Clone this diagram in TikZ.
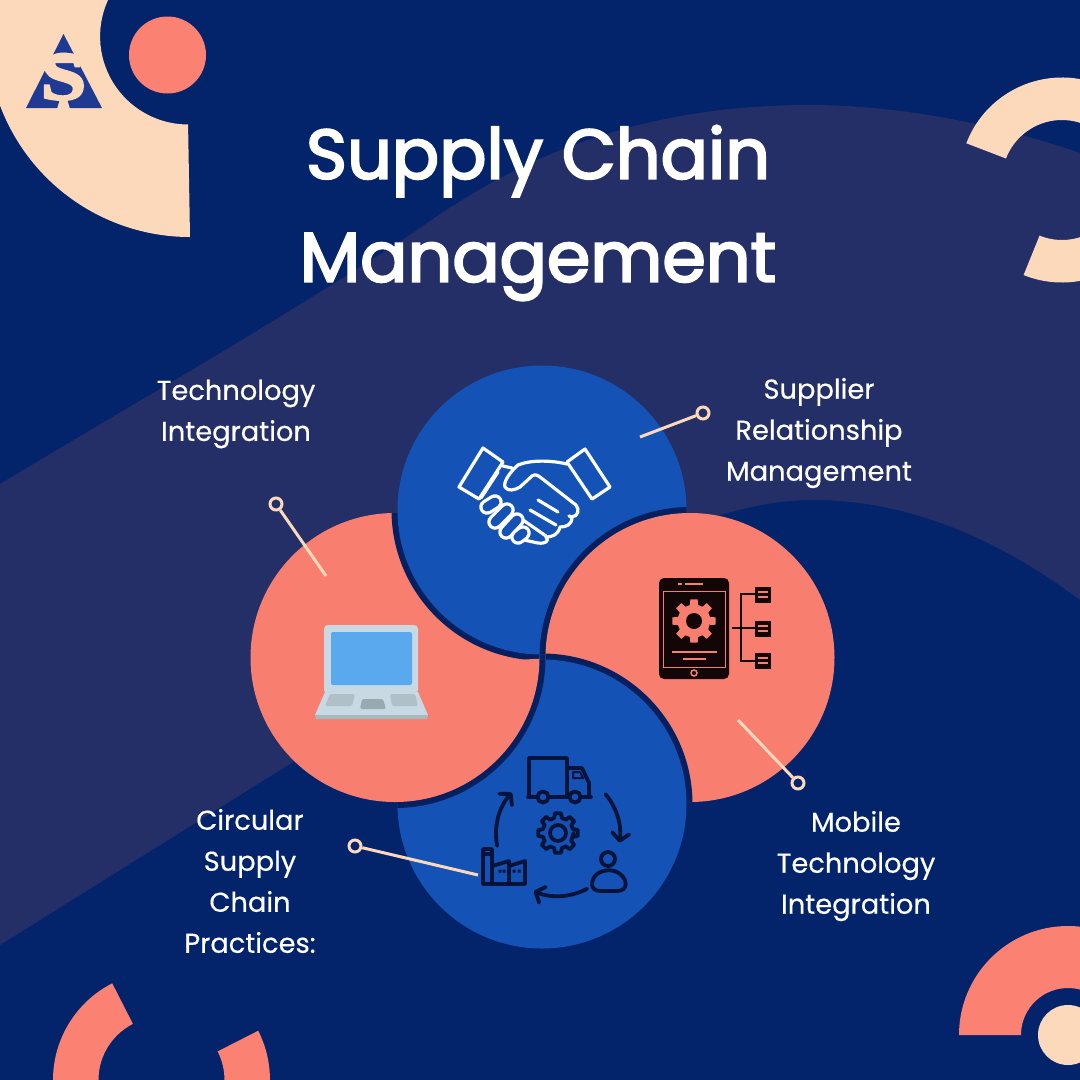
\documentclass[tikz,border=0pt]{standalone}
\usepackage{fontspec}
\usetikzlibrary{arrows.meta}
\setmainfont{Poppins}[FakeBold=0.4]
\newfontfamily\titlefont[FakeBold=3]{Poppins}
\newfontfamily\logofont[FakeBold=3.5,FakeStretch=1.2]{Liberation Serif}
\definecolor{bgnavy}{HTML}{03246B}
\definecolor{bandnavy}{HTML}{232F66}
\definecolor{peach}{HTML}{FDD9BB}
\definecolor{salmon}{HTML}{FB8173}
\definecolor{leaf}{HTML}{F87F70}
\definecolor{roy}{HTML}{1453B5}
\definecolor{seam}{HTML}{06205F}
\definecolor{ink}{HTML}{03133A}
\definecolor{tabink}{HTML}{120606}
\definecolor{lapframe}{HTML}{C8D9E3}
\definecolor{lapscreen}{HTML}{5AA9EE}
\definecolor{lapkey}{HTML}{AFC0C8}
\definecolor{lapedge}{HTML}{A6B8C0}
\definecolor{logoblue}{HTML}{1F3A93}
\tikzset{
  ringdot/.style={circle,draw=peach,line width=3pt,inner sep=0pt,minimum size=12pt},
  lead/.style={draw=peach,line width=3pt},
  lab/.style={text=white,align=center,font=\fontsize{27.3}{41}\selectfont},
  ttl/.style={text=white,align=center,font=\titlefont\fontsize{70}{103}\selectfont},
  hand/.style={draw=white,line width=3.2pt,line cap=round,line join=round},
  supply/.style={draw=ink,line width=3.8pt,line cap=round,line join=round},
  cyc/.style={supply,-{Straight Barb[length=7.5pt,width=17pt,line cap=round,line join=round]}},
}
% teeth, tip radius, root radius, tip half-angle, root half-angle
\newcommand{\gearloop}[5]{%
  (0:#3) \foreach \i [evaluate=\i as \a using \i*360/#1] in {1,...,#1} {
    -- ({\a-#5}:#3) -- ({\a-#4}:#2) -- ({\a+#4}:#2) -- ({\a+#5}:#3)
  } -- cycle}
\begin{document}
\begin{tikzpicture}[x=1pt,y=-1pt]
\useasboundingbox (0,0) rectangle (1080,1080);
\clip (0,0) rectangle (1080,1080);
\fill[bgnavy] (0,0) rectangle (1080,1080);
% lighter sweep
\fill[bandnavy] (0,484) .. controls (140,400) and (280,320) .. (413,233)
  .. controls (500,170) and (620,105) .. (810,105)
  .. controls (900,105) and (1000,125) .. (1080,153)
  -- (1080,600) .. controls (1000,540) and (910,500) .. (813,500)
  .. controls (650,500) and (450,665) .. (293,762)
  -- (0,945) -- cycle;
% top-left arc and disc
\fill[peach] (190,237) arc[start angle=90,end angle=200,radius=203] -- (0,0) -- (108,0)
  arc[start angle=204.5,end angle=90,radius=88] -- cycle;
\fill[salmon] (167.5,55) circle[radius=38.5];
% logo
\fill[logoblue] (63.5,34) -- (102,108) -- (26,108) -- cycle;
\fill[peach] (46,63) .. controls (50,49) and (77,49) .. (81,63) -- cycle;
\node[inner sep=0pt,text=peach,font=\logofont\bfseries\fontsize{68}{68}\selectfont] (logoS) at (63.5,77) {S};
\fill[peach] (57,109) -- (60,99) -- (67,99) -- (70,109) -- cycle;
% top-right ring
\fill[peach] ([shift={(201:102.5)}]1062,180) arc[start angle=201,end angle=340,radius=102.5]
  -- ([shift={(340:60)}]1062,180) arc[start angle=340,end angle=201,radius=60] -- cycle;
\fill[peach] ([shift={(112:102.5)}]1062,180) arc[start angle=112,end angle=40,radius=102.5]
  -- ([shift={(40:60)}]1062,180) arc[start angle=40,end angle=112,radius=60] -- cycle;
% bottom-right ring and disc
\fill[salmon] (959,1035) arc[start angle=180,end angle=300,radius=109]
  -- ([shift={(300:47)}]1068,1035) arc[start angle=300,end angle=180,radius=47] -- cycle;
\fill[peach] (1068,1035) circle[radius=30];
% bottom-left ring
\fill[salmon] ([shift={(243:108.5)}]161.5,1080) arc[start angle=243,end angle=175,radius=108.5]
  -- ([shift={(175:63)}]161.5,1080) arc[start angle=175,end angle=243,radius=63] -- cycle;
\fill[salmon] ([shift={(333:108.5)}]161.5,1080) arc[start angle=333,end angle=365,radius=108.5]
  -- ([shift={(365:63)}]161.5,1080) arc[start angle=365,end angle=333,radius=63] -- cycle;
% interlocked discs
\def\rr{144.5}\def\rb{150.5}\def\rx{145.3}
\coordinate (cL) at (395,657.5);
\coordinate (cT) at (542,510);
\coordinate (cR) at (690,657.5);
\coordinate (cB) at (542,804);
\fill[leaf] (cL) circle[radius=\rr];
\begin{scope}\clip (cL) circle[radius=\rr]; \fill[seam] (cT) circle[radius=\rb]; \end{scope}
\fill[roy] (cT) circle[radius=\rr];
\begin{scope}\clip (cT) circle[radius=\rr]; \fill[seam] (cR) circle[radius=\rb]; \end{scope}
\fill[leaf] (cR) circle[radius=\rr];
\begin{scope}\clip (cR) circle[radius=\rr]; \fill[seam] (cB) circle[radius=\rb]; \end{scope}
\fill[roy] (cB) circle[radius=\rr];
\begin{scope}\clip (cB) circle[radius=\rr]; \fill[seam] (cL) circle[radius=\rb]; \end{scope}
\begin{scope}\clip (cB) circle[radius=\rx]; \fill[leaf] (cL) circle[radius=\rr]; \end{scope}
% handshake
\draw[hand] (483,448) -- (503,462) -- (479,499) -- (459,487) -- cycle;
\draw[hand] (585,449) -- (567,462) -- (592,499) -- (610,487) -- cycle;
\draw[hand] (503,466) -- (512,468);
\draw[hand] (498,472) -- (481,498);
\draw[hand] (567,464) .. controls (550,460) and (530,460) .. (518,465)
  .. controls (510,472) and (503,482) .. (505,487)
  .. controls (508,492) and (515,490) .. (520,487)
  -- (532,476) .. controls (535,474) and (537,475) .. (540,477) -- (576,505)
  .. controls (580,510) and (578,516) .. (572,517) -- (569,516);
\draw[hand] (572,517) .. controls (572,525) and (566,527) .. (560,527)
  .. controls (558,535) and (552,537) .. (546,537);
\draw[hand] (546,537) .. controls (550,541) and (545,544) .. (538,543) -- (524,540);
\draw[hand] (538,500) -- (558,512);
\draw[hand] (530,510) -- (556,525);
\draw[hand] (523,520) -- (546,536);
\foreach \xa/\ya/\xb/\yb [count=\k] in {487/507/495/502,495/522/507/510,506/532/517/520,518/537/523/533}{
  \draw[white,line width=15.5pt,line cap=round] (\xa,\ya) -- (\xb,\yb);
  \draw[roy,line width=9pt,line cap=round] (\xa,\ya) -- (\xb,\yb);
}
% laptop
\fill[lapframe,rounded corners=4pt] (324,625) rectangle (418,694);
\fill[lapscreen,rounded corners=2pt] (331,632) rectangle (412,685);
\fill[lapframe] (325,692) -- (418,692) -- (428,715) -- (315,715) -- cycle;
\fill[lapedge] (315,715) -- (428,715) -- (427,719) -- (316,719) -- cycle;
\fill[lapkey,rounded corners=1.5pt] (330,694) -- (355,694) -- (352,706) -- (325,706) -- cycle;
\fill[lapkey,rounded corners=1.5pt] (390,694) -- (415,694) -- (418,706) -- (392,706) -- cycle;
\fill[lapedge!92!black,rounded corners=1.5pt] (362,699) -- (383,699) -- (386,709) -- (360,709) -- cycle;
% tablet
\fill[tabink,rounded corners=5pt] (659,578) rectangle (729,679);
\draw[leaf,line width=1pt] (663.5,591) rectangle (725.5,667);
\draw[leaf,line width=2pt] (678,584) -- (682,584) (685,584) -- (703,584);
\begin{scope}[shift={(694,621)}]
\fill[leaf] \gearloop{8}{22}{16.5}{9.5}{14.5};
\fill[tabink] (0,0) circle[radius=8];
\end{scope}
\draw[leaf,line width=1.6pt] (672,652) -- (717,652) (683,659) -- (706,659);
\draw[leaf,line width=1.5pt] (694,673) circle[radius=3];
\draw[tabink,line width=2.4pt] (732,628) -- (755,628) (755,594) -- (741,594) -- (741,661) -- (755,661);
\foreach \yy in {595,629,661}{
  \fill[tabink] (755,\yy-8) rectangle (771,\yy+8);
  \draw[leaf,line width=1.3pt] (758,\yy-3) -- (768,\yy-3) (758,\yy+2) -- (768,\yy+2);
}
% supply loop
\draw[supply] (529,795) -- (529,758) -- (567,758) -- (567,795);
\draw[supply] (568,768) -- (582,768) -- (589,783) -- (589,795);
\draw[supply,line width=2pt] (573,772) -- (580,772) -- (583,778) -- (573,778) -- cycle;
\draw[supply] (528,797) -- (591,797);
\draw[supply,fill=roy] (543,797) circle[radius=5.5];
\draw[supply,fill=roy] (575,797) circle[radius=5.5];
\draw[cyc] ([shift={(-40:62)}]558,834) arc[start angle=-40,end angle=8,radius=62];
\draw[cyc] ([shift={(62:62)}]558,834) arc[start angle=62,end angle=113,radius=62];
\draw[cyc] ([shift={(169:62)}]558,834) arc[start angle=169,end angle=222,radius=62];
\begin{scope}[shift={(558,833)}]
\draw[supply] \gearloop{8}{20}{15.5}{9}{14};
\draw[supply] (0,0) circle[radius=8];
\end{scope}
\draw[supply] (608,859) circle[radius=7];
\draw[supply] (600,891) .. controls (590,891) and (590,880) .. (597,874)
  .. controls (604,869) and (614,869) .. (620,874)
  .. controls (628,880) and (628,891) .. (617,891) -- cycle;
\draw[supply] (483,849) -- (492,849) -- (492,884) (483,849) -- (483,884) -- (525,884) -- (525,861)
  -- (509,866) -- (509,861) -- (492,866) (509,866) -- (509,884) (483,854) -- (492,854);
\fill[ink] (498.5,869.5) rectangle (501.5,872.5) (502.5,869.5) rectangle (505.5,872.5)
  (512.5,869.5) rectangle (515.5,872.5) (517.5,869.5) rectangle (520.5,872.5);
% connectors
\node[ringdot] (rsup) at (703,413) {};
\node[ringdot] (rtec) at (276,504) {};
\node[ringdot] (rmob) at (798,783) {};
\node[ringdot] (rcir) at (355,846) {};
\coordinate (esup) at (640,437);
\coordinate (etec) at (326,576);
\coordinate (emob) at (738,720);
\coordinate (ecir) at (478,875);
\draw[lead] (esup) -- (rsup);
\draw[lead] (etec) -- (rtec);
\draw[lead] (emob) -- (rmob);
\draw[lead] (ecir) -- (rcir);
% text
\node[ttl] (title) at (538,213) {Supply Chain\\Management};
\node[lab] (ltec) at (236,414) {Technology\\Integration};
\node[lab] (lsup) at (819,433) {Supplier\\Relationship\\Management};
\node[lab] (lmob) at (856,866) {Mobile\\Technology\\Integration};
\node[lab] (lcir) at (250,881) {Circular\\Supply\\Chain\\Practices:};
\end{tikzpicture}
\end{document}
